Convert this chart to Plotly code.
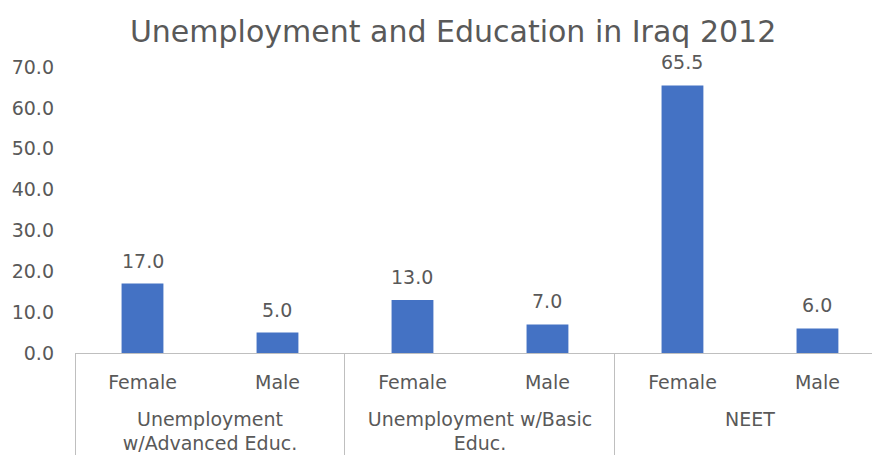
import plotly.graph_objects as go

groups = ["Unemployment<br>w/Advanced Educ.", "Unemployment<br>w/Advanced Educ.",
          "Unemployment w/Basic<br>Educ.", "Unemployment w/Basic<br>Educ.",
          "NEET", "NEET"]
genders = ["Female", "Male", "Female", "Male", "Female", "Male"]
values = [17.0, 5.0, 13.0, 7.0, 65.5, 6.0]
y_ticks = [0, 10, 20, 30, 40, 50, 60, 70]

grey = "#595959"
font_family = "DejaVu Sans, sans-serif"

# inner labels get an empty second line so the outer level sits lower, like the reference
inner_labels = [g + "<br> " for g in genders]

fig = go.Figure(go.Bar(
    x=[groups, inner_labels],
    y=values,
    marker=dict(color="#4472C4", line=dict(width=0)),
    hoverinfo="skip",
))

for i, v in enumerate(values):
    fig.add_annotation(
        x=i, y=v, xref="x", yref="y",
        text=f"{v:.1f}", showarrow=False,
        yanchor="bottom", yshift=10,
        font=dict(size=19, color=grey, family=font_family),
    )

fig.update_layout(
    width=873, height=458,
    margin=dict(l=75, r=1, t=67, b=105),
    paper_bgcolor="white", plot_bgcolor="white",
    title=dict(text="Unemployment and Education in Iraq 2012",
               x=0.519, xanchor="center", y=1 - 31 / 458, yanchor="middle",
               font=dict(size=30, color=grey, family=font_family)),
    bargap=0.69,
    showlegend=False,
    font=dict(family=font_family, color=grey, size=19),
)
fig.update_xaxes(
    type="multicategory",
    range=[-0.5, 5.404],
    showline=True, linecolor="#BFBFBF", linewidth=1,
    showdividers=True, dividercolor="#BFBFBF", dividerwidth=1,
    tickfont=dict(size=19, color=grey),
    showgrid=False, ticks="",
    ticklabelstandoff=12,
)
fig.update_yaxes(
    range=[0, 70], tickvals=y_ticks, tickformat=".1f",
    showgrid=False, zeroline=False, showline=False,
    tickfont=dict(size=19, color=grey),
    ticklabelstandoff=20,
)

fig.write_html("out.html", post_script="document.body.style.margin='0';",
               config={"displayModeBar": False})
